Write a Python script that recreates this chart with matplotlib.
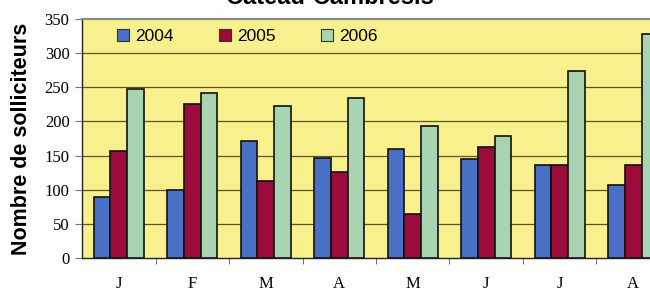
import matplotlib
matplotlib.use("Agg")
import matplotlib.pyplot as plt
import numpy as np
from matplotlib.patches import Patch

months = ["J", "F", "M", "A", "M", "J", "J", "A"]
years = ["2004", "2005", "2006"]
v2004 = [90, 100, 171, 147, 160, 145, 136, 107]
v2005 = [156, 225, 113, 126, 64, 162, 136, 136]
v2006 = [248, 242, 222, 234, 194, 179, 274, 328]
yticks = [0, 50, 100, 150, 200, 250, 300, 350]
colors = ["#4a70c6", "#9b0c3c", "#a9d4b1"]

W, H = 650, 293
fig = plt.figure(figsize=(W/100, H/100), dpi=100)
fig.patch.set_facecolor("#fdfdfb")
ax = fig.add_axes([82/W, (H-258)/H, (670-82)/W, (258-19)/H])
ax.set_facecolor("#f8f08c")

x = np.arange(len(months))
bw = 0.225
for i, (vals, c) in enumerate(zip([v2004, v2005, v2006], colors)):
    ax.bar(x + (i-1)*bw, vals, bw, color=c, edgecolor="#111111", linewidth=1.2, zorder=3)

ax.set_xlim(-0.5, len(months)-0.5)
ax.set_ylim(0, 350)
ax.set_yticks(yticks)
ax.set_yticklabels([str(t) for t in yticks], family="Liberation Serif", fontsize=12)
for t in yticks[1:-1]:
    ax.axhline(t, color="#5a5628", lw=0.9, zorder=1)

ax.set_xticks(x)
ax.set_xticklabels(months, family="Liberation Serif", fontsize=12)
ax.tick_params(axis="x", which="major", length=0, pad=13)
ax.set_xticks(np.arange(0.5, len(months)-0.5, 1), minor=True)
ax.tick_params(axis="x", which="minor", length=4, color="#555555", direction="out")
ax.tick_params(axis="y", length=5, color="#777777", direction="out", pad=4)

for s in ["left", "bottom"]:
    ax.spines[s].set_color("#222222")
    ax.spines[s].set_linewidth(1.0)
ax.spines["top"].set_color("#888888")
ax.spines["top"].set_linewidth(1.5)
ax.spines["right"].set_visible(False)

ax.set_ylabel("Nombre de solliciteurs", family="Liberation Sans", fontweight="bold",
              fontsize=15.5, labelpad=9)

handles = [Patch(facecolor=c, edgecolor="#333333", linewidth=0.8) for c in colors]
ax.legend(handles, years, ncol=3, loc="upper left", bbox_to_anchor=(0.033, 1.025),
          frameon=False, prop={"family": "Liberation Sans", "size": 12.5},
          handlelength=0.7, handleheight=0.7, handletextpad=0.35, columnspacing=2.6)

fig.text(330/W, 1 - 4/H, "Cateau-Cambrésis", ha="center", va="baseline",
         family="Liberation Sans", fontweight="bold", fontsize=17)

fig.savefig("out.png", dpi=100)
